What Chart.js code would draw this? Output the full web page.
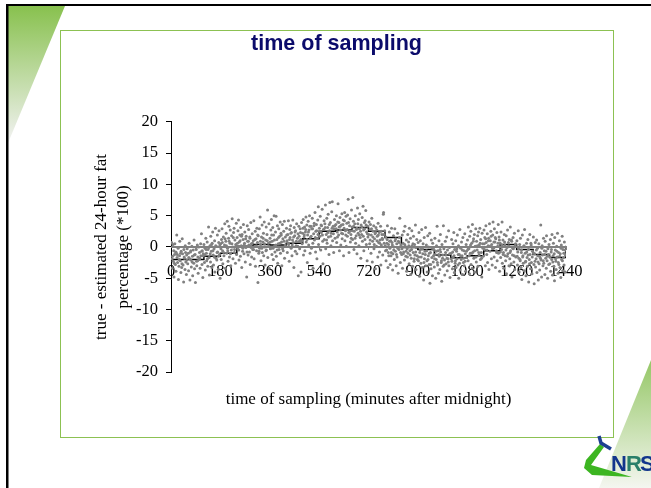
<!DOCTYPE html>
<html>
<head>
<meta charset="utf-8">
<script src="https://cdn.jsdelivr.net/npm/chart.js@4"></script>
<style>
  html, body { margin: 0; padding: 0; background: #fff; }
  #wrap { width: 651px; height: 488px; }
</style>
</head>
<body>
<div id="wrap"><canvas id="c" width="651" height="488"></canvas></div>
<script>
// mean per hour of day, drawn as a step line
const stepMinutes = [0, 0, 60, 120, 180, 240, 300, 360, 420, 480, 540, 600, 660, 720, 780, 840, 900, 960, 1020, 1080, 1140, 1200, 1260, 1320, 1380, 1440, 1440];
const stepValues = [0, -2.0, -2.0, -1.5, -1.0, 0.1, 0.4, 0.3, 0.6, 1.3, 2.5, 2.7, 3.1, 2.5, 1.5, -0.1, -0.4, -1.3, -1.75, -1.4, -0.6, 0.4, -0.4, -1.2, -1.7, -1.65, 0];
const zeroMinutes = [0, 1440];
const zeroValues = [0, 0];

// single samples [minute, difference]
const samples = [
[2,0.7],[4,-1.9],[5,-3.4],[7,0.4],[8,-2.3],[10,-0.6],[11,-4.8],[13,-1.2],[14,0.5],[16,-2.8],[18,-3.9],[19,-0.9],[21,1.9],[22,-1.7],[24,-2.5],[26,-0.2],[27,-5.2],[29,-3.1],[31,-1.4],[32,0.9],[34,-2.2],[36,-4.1],[37,-0.7],[39,-3.3],[41,1.3],[42,-1.1],[44,-2.9],[46,-5.6],[47,-0.4],[49,-1.8],[51,-3.6],[52,0.2],[54,-2.4],[56,-4.4],[57,-1.3],[59,-0.3],
[61,-2.7],[63,-1.0],[64,-3.8],[66,0.6],[68,-1.9],[69,-5.3],[71,-0.8],[73,-2.1],[74,-3.2],[76,0.1],[78,-1.5],[79,-4.6],[81,-0.5],[83,-2.6],[84,1.1],[86,-3.5],[88,-1.2],[89,-5.7],[91,-0.1],[93,-2.3],[94,-3.0],[96,0.3],[98,-1.6],[99,-4.2],[101,0.0],[103,-2.0],[104,-0.9],[106,-3.4],[108,0.5],[109,-1.4],[111,2.1],[113,-2.8],[114,-0.6],[116,-4.9],[118,-1.1],
[120,0.4],[122,-2.5],[124,-0.2],[125,-3.7],[127,1.4],[129,-1.0],[130,-2.2],[132,0.8],[134,-3.1],[135,-0.4],[137,3.2],[139,-1.7],[140,-4.5],[142,0.2],[144,-2.4],[145,1.7],[147,-0.7],[149,-3.3],[150,0.6],[152,2.4],[154,-1.3],[155,-2.9],[157,-0.3],[159,1.0],[160,-4.0],[162,3.0],[164,-1.8],[165,0.1],[167,-2.1],[169,1.9],[170,-0.8],[172,-3.6],[174,0.7],[175,2.6],[177,-1.2],[179,-5.0],
[181,0.5],[183,-2.0],[184,1.2],[186,2.9],[188,-0.6],[189,-2.7],[191,1.6],[193,-1.4],[195,0.3],[196,3.7],[198,-3.4],[200,0.9],[201,2.2],[203,-1.0],[205,4.1],[206,-0.2],[208,-2.3],[210,1.4],[211,3.3],[213,-1.6],[215,0.6],[216,2.7],[218,-3.0],[220,-0.5],[221,1.8],[223,4.5],[225,0.0],[226,-1.9],[228,2.3],[230,3.0],[231,-0.9],[233,1.1],[235,-2.6],[236,0.4],[238,3.8],[239,-1.2],
[241,1.5],[243,-0.3],[244,2.6],[246,4.3],[248,-2.1],[249,0.8],[251,1.9],[253,-1.5],[254,3.1],[256,0.2],[258,-3.3],[259,2.0],[261,-0.7],[263,1.2],[264,3.6],[266,-1.1],[268,0.6],[269,2.4],[271,-2.4],[273,-0.1],[274,1.7],[276,-4.8],[278,3.4],[279,0.9],[281,-1.3],[283,2.8],[284,0.3],[286,-0.8],[288,1.4],[289,-2.8],[291,3.9],[293,0.5],[294,-1.6],[296,2.1],[298,-0.4],
[300,1.0],[302,4.2],[303,-1.9],[305,0.1],[307,2.5],[308,-3.1],[310,1.3],[312,-0.6],[313,3.0],[315,0.7],[317,-5.7],[318,1.8],[320,-1.0],[322,2.9],[323,-0.2],[325,4.8],[327,0.4],[328,-2.2],[330,1.6],[332,3.5],[333,-0.9],[335,0.8],[337,2.2],[338,-1.4],[340,4.0],[342,0.0],[343,-2.9],[345,1.1],[347,3.2],[348,-0.5],[350,2.0],[352,5.9],[353,-1.7],[355,0.6],[357,3.7],[358,-3.4],
[361,1.4],[363,-0.3],[364,2.7],[366,4.4],[368,-1.2],[369,0.9],[371,3.1],[373,-2.0],[374,1.9],[376,5.0],[378,0.2],[379,-0.8],[381,2.4],[383,4.9],[384,-1.5],[386,1.2],[388,3.4],[389,-2.6],[391,0.5],[393,2.9],[394,-0.4],[396,1.7],[398,4.0],[399,-1.0],[401,2.2],[403,0.8],[404,-3.0],[406,3.6],[408,1.3],[409,-0.6],[411,2.5],[413,4.1],[414,-1.8],[416,0.3],
[421,3.0],[423,1.0],[424,-0.9],[426,2.0],[428,4.2],[429,0.4],[431,-2.3],[433,2.8],[434,1.5],[436,3.4],[438,-0.2],[439,2.3],[441,-1.4],[443,1.1],[444,4.3],[446,0.7],[448,-3.3],[449,3.1],[451,1.8],[453,-0.7],[454,2.6],[456,0.2],[458,3.7],[459,-1.1],[461,1.4],[463,2.1],[464,-4.6],[466,3.3],[468,0.9],[469,-0.3],[471,2.9],[473,1.2],[474,-4.0],[476,3.9],[478,0.5],
[480,2.2],[482,4.4],[483,-1.3],[485,1.6],[487,3.2],[488,-0.6],[490,2.4],[492,4.8],[493,0.8],[495,3.5],[497,-2.5],[498,1.9],[500,4.1],[502,0.3],[503,2.7],[505,5.0],[507,-1.0],[508,1.5],[510,3.3],[512,-0.2],[513,2.9],[515,4.6],[517,0.6],[518,-3.4],[520,2.1],[522,3.8],[523,1.1],[525,5.5],[527,-0.8],[528,2.5],[530,3.6],[532,-1.9],[533,1.4],[535,4.3],[537,6.4],[538,0.4],
[541,3.0],[543,1.7],[544,4.9],[546,-0.5],[548,2.3],[549,3.4],[551,6.0],[553,0.9],[554,-2.7],[556,2.8],[558,4.2],[559,1.2],[561,3.7],[563,6.7],[564,-0.3],[566,2.0],[568,4.6],[569,0.6],[571,3.1],[573,5.2],[574,1.6],[576,-1.2],[578,2.6],[579,7.1],[581,3.9],[583,0.2],[584,2.2],[586,5.6],[588,7.2],[589,1.0],[591,3.3],[593,-0.9],[594,2.9],[596,4.4],[598,1.4],
[601,3.6],[603,5.0],[604,0.7],[606,2.4],[608,4.0],[609,6.9],[611,1.9],[613,3.2],[614,-0.6],[616,4.7],[618,2.7],[619,0.3],[621,3.5],[623,5.3],[624,1.3],[626,2.1],[628,4.3],[629,-1.4],[631,3.0],[633,5.5],[634,1.0],[636,2.6],[638,4.9],[639,0.1],[641,3.8],[643,1.7],[644,5.1],[646,7.6],[648,2.3],[649,-0.9],[651,3.4],[653,4.5],[654,0.8],[656,2.0],[658,5.9],
[660,3.2],[662,1.2],[663,7.9],[665,4.1],[667,-0.4],[668,2.5],[670,3.7],[672,5.0],[673,0.6],[675,1.8],[677,3.0],[678,-1.1],[680,6.2],[682,2.2],[683,4.4],[685,0.2],[687,2.9],[688,5.3],[690,1.5],[692,-1.8],[693,3.5],[695,2.0],[697,4.7],[698,0.9],[700,6.5],[702,2.7],[703,-0.6],[705,3.9],[707,1.2],[708,4.2],[710,5.8],[712,0.4],[713,2.4],[715,-2.2],[717,3.3],[718,1.6],
[722,4.0],[724,0.5],[725,2.8],[727,3.6],[729,-1.0],[730,1.9],[732,4.6],[734,-2.4],[735,0.9],[737,2.5],[739,3.4],[740,-0.3],[742,1.3],[744,2.1],[745,-3.5],[747,3.1],[749,0.1],[750,2.7],[752,1.7],[754,-1.6],[755,3.8],[757,0.7],[759,2.3],[760,-0.8],[762,1.1],[764,3.3],[765,-2.9],[767,0.3],[769,2.0],[770,1.4],[772,-1.3],[774,5.2],[775,5.5],[777,0.6],[779,2.6],
[781,0.2],[783,1.6],[784,-2.2],[786,-0.5],[788,1.2],[789,3.4],[791,-3.3],[793,0.4],[794,-1.4],[796,2.4],[798,-0.2],[799,-2.8],[801,1.0],[803,-0.9],[804,3.0],[806,0.7],[808,-3.7],[809,-1.1],[811,1.8],[813,0.0],[814,-2.0],[816,2.9],[818,-0.7],[819,1.3],[821,-3.0],[823,0.5],[824,-1.6],[826,2.2],[828,-4.2],[829,0.9],[831,-0.4],[833,1.5],[834,4.6],[836,-2.5],[838,0.3],
[841,-1.2],[843,1.9],[844,-3.4],[846,0.6],[848,-0.8],[849,2.5],[851,-2.1],[853,3.3],[854,0.1],[856,-1.5],[858,1.1],[859,-3.9],[861,-0.3],[863,2.0],[864,-1.0],[866,0.8],[868,-2.7],[869,3.0],[871,-0.6],[873,1.4],[874,-4.4],[876,-1.8],[878,2.6],[879,0.2],[881,-3.1],[883,-0.9],[884,1.7],[886,-2.3],[888,0.4],[889,-1.3],[891,3.5],[893,-3.6],[894,-0.1],[896,1.2],[898,-2.0],
[901,0.7],[903,-1.6],[904,2.3],[906,-4.7],[908,-0.5],[909,1.0],[911,-2.6],[913,-0.2],[914,2.8],[916,-3.3],[918,-1.1],[919,0.5],[921,-5.3],[923,1.5],[924,-1.9],[926,-0.7],[928,3.1],[929,-3.0],[931,0.3],[933,-2.2],[934,-4.0],[936,1.8],[938,-1.4],[939,0.0],[941,-2.8],[943,2.2],[944,-5.8],[946,-0.9],[948,-3.5],[949,1.1],[951,-1.7],[953,-4.6],[954,0.6],[956,-2.4],[958,-0.4],
[960,-3.2],[962,1.4],[963,-1.2],[965,-5.0],[967,-2.0],[968,0.2],[970,3.3],[972,-2.9],[973,-0.6],[975,-4.2],[977,1.0],[978,-1.5],[980,-3.6],[982,2.0],[983,-0.8],[985,-2.5],[987,-5.5],[988,0.4],[990,-1.8],[992,-3.1],[993,3.4],[995,-0.3],[997,-2.1],[998,-4.5],[1000,0.9],[1002,-1.3],[1003,-2.7],[1005,1.6],[1007,-3.8],[1008,-0.5],[1010,-1.9],[1012,2.6],[1013,-3.0],[1015,-0.1],[1017,-4.9],
[1021,-1.0],[1023,1.2],[1024,-2.3],[1026,-3.5],[1028,0.5],[1029,-1.6],[1031,2.3],[1033,-4.1],[1034,-0.4],[1036,-2.6],[1038,1.0],[1039,-3.3],[1041,-0.7],[1043,-1.9],[1044,1.9],[1046,-2.9],[1048,0.2],[1049,-5.0],[1051,-1.2],[1053,2.8],[1054,-3.7],[1056,-0.2],[1058,-2.0],[1059,0.8],[1061,-1.4],[1063,-4.4],[1064,1.5],[1066,-2.5],[1068,-0.6],[1069,-3.0],[1071,2.1],[1073,-1.1],[1074,-3.9],[1076,0.4],[1078,-1.7],
[1081,1.1],[1083,-2.2],[1084,3.2],[1086,-0.3],[1088,-4.3],[1089,1.7],[1091,-1.0],[1093,2.5],[1094,-2.8],[1096,0.6],[1098,-3.4],[1099,3.6],[1101,-0.8],[1103,1.3],[1104,-1.8],[1106,2.0],[1108,-4.0],[1109,0.1],[1111,2.9],[1113,-2.4],[1114,0.9],[1116,-0.5],[1118,1.8],[1119,-3.1],[1121,2.4],[1123,-1.3],[1124,0.3],[1126,3.0],[1128,-2.0],[1129,1.2],[1131,-0.9],[1133,-4.8],[1134,2.2],[1136,0.5],[1138,-1.5],
[1141,2.7],[1143,-0.4],[1144,1.5],[1146,-3.0],[1148,3.4],[1149,0.7],[1151,-1.2],[1153,2.1],[1154,-2.5],[1156,0.2],[1158,1.4],[1159,-3.6],[1161,3.7],[1163,-0.7],[1164,1.0],[1166,2.5],[1168,-1.9],[1169,0.4],[1171,-2.9],[1173,1.9],[1174,4.0],[1176,-0.2],[1178,-1.6],[1179,2.9],[1181,0.8],[1183,-3.3],[1184,1.3],[1186,-0.6],[1188,2.3],[1189,-2.2],[1191,0.1],[1193,3.6],[1194,-1.0],[1196,1.6],[1198,-3.9],
[1200,0.6],[1202,-1.7],[1203,2.4],[1205,-0.4],[1207,4.0],[1208,-2.6],[1210,1.1],[1212,-0.9],[1213,-3.4],[1215,2.0],[1217,0.3],[1218,-1.4],[1220,-2.2],[1222,1.8],[1223,-4.3],[1225,-0.1],[1227,2.7],[1228,-1.1],[1230,0.7],[1232,-3.0],[1233,1.2],[1235,-1.9],[1237,3.2],[1238,-0.6],[1240,-2.7],[1242,0.9],[1243,-4.8],[1245,-1.3],[1247,1.5],[1248,-0.3],[1250,-2.4],[1252,2.2],[1253,-3.6],[1255,0.2],[1257,-1.6],
[1261,1.0],[1263,-2.9],[1264,-0.8],[1266,2.6],[1268,-1.8],[1269,-4.0],[1271,0.4],[1273,-2.2],[1274,1.4],[1276,-3.3],[1278,-0.5],[1279,-5.2],[1281,1.9],[1283,-1.4],[1284,-2.6],[1286,0.1],[1288,-3.8],[1289,2.8],[1291,-1.0],[1293,-2.3],[1294,-4.6],[1296,0.6],[1298,-1.7],[1299,-3.1],[1301,1.2],[1303,-0.4],[1304,-5.6],[1306,-2.0],[1308,2.0],[1309,-1.2],[1311,-3.5],[1313,0.3],[1314,-2.5],[1316,-4.3],[1318,-0.7],
[1321,1.6],[1323,-2.8],[1324,-5.9],[1326,-1.1],[1328,0.7],[1329,-3.2],[1331,-1.9],[1333,1.1],[1334,-4.1],[1336,-0.2],[1338,-2.4],[1339,-5.3],[1341,0.5],[1343,-1.5],[1344,-3.7],[1346,-0.9],[1348,3.5],[1349,-2.1],[1351,-4.8],[1353,0.2],[1354,-1.3],[1356,-3.0],[1358,1.4],[1359,-2.6],[1361,-0.6],[1363,-4.4],[1364,0.9],[1366,-1.8],[1368,-3.4],[1369,1.8],[1371,-2.2],[1373,-5.0],[1374,-0.3],[1376,-1.2],[1378,0.4],
[1381,-2.7],[1383,1.2],[1384,-3.9],[1386,-0.8],[1388,-2.0],[1389,2.0],[1391,-4.5],[1393,-1.4],[1394,0.6],[1396,-3.1],[1398,-5.4],[1399,1.5],[1401,-0.5],[1403,-2.3],[1404,-3.6],[1406,0.1],[1408,-1.6],[1409,2.2],[1411,-4.2],[1413,-0.9],[1414,-2.8],[1416,1.0],[1418,-3.3],[1419,-1.1],[1421,-4.9],[1423,0.3],[1424,-2.0],[1426,1.7],[1428,-3.8],[1429,-0.4],[1431,-1.7],[1433,-2.9],[1434,0.8],[1436,-4.0],[1438,-1.3],[1439,0.0]
];

// the dense band of samples close to the hourly mean
const denseSamples = [
[6,-1.5],[12,-2.6],[17,-0.8],[23,-1.2],[30,-2.0],[35,-1.0],[40,-2.7],[48,-1.6],[53,-0.9],[58,-2.1],[65,-1.7],[72,-0.6],[77,-2.4],[85,-1.3],[92,-0.4],[97,-2.2],[105,-1.8],[112,-0.7],[117,-1.4],
[123,-1.3],[128,-0.4],[133,-1.9],[138,-0.1],[143,-1.1],[148,0.4],[153,-0.6],[158,-1.6],[163,0.2],[168,-0.9],[173,-1.5],[178,0.3],
[182,-0.3],[187,0.7],[192,-0.9],[197,1.3],[202,0.2],[207,-0.6],[212,0.9],[217,-1.1],[222,0.5],[227,1.5],[232,-0.4],[237,0.1],
[242,0.6],[247,-0.5],[252,1.0],[257,1.7],[262,-0.2],[267,0.3],[272,1.3],[277,-0.8],[282,0.9],[287,1.6],[292,-0.1],[297,0.6],
[301,-0.4],[306,1.2],[311,0.2],[316,1.9],[321,-0.7],[326,0.9],[331,-0.2],[336,1.4],[341,0.5],[346,-0.6],[351,1.0],[356,0.1],
[362,0.8],[367,1.9],[372,-0.2],[377,1.1],[382,0.3],[387,-0.5],[392,1.5],[397,0.6],[402,1.9],[407,-0.3],[412,0.9],[417,1.6],
[422,1.9],[427,0.6],[432,1.2],[437,2.2],[442,0.3],[447,1.6],[452,2.4],[457,0.9],[462,0.1],[467,1.7],[472,2.3],[477,1.0],
[481,3.0],[486,1.9],[491,2.8],[496,1.2],[501,2.4],[506,3.3],[511,1.7],[516,2.9],[521,3.4],[526,1.5],[531,2.6],[536,2.0],
[542,2.5],[547,3.5],[552,1.9],[557,2.8],[562,3.1],[567,1.1],[572,2.3],[577,3.6],[582,1.7],[587,3.0],[592,2.1],[597,3.4],
[602,2.9],[607,1.6],[612,3.9],[617,3.3],[622,2.2],[627,3.6],[632,4.2],[637,1.9],[642,2.8],[647,3.9],[652,2.5],[657,1.4],
[661,2.6],[666,3.3],[671,1.4],[676,2.8],[681,3.7],[686,1.9],[691,2.5],[696,3.2],[701,1.7],[706,2.9],[711,3.5],[716,2.1],
[721,2.0],[726,1.1],[731,2.9],[736,1.6],[741,0.4],[746,2.3],[751,1.0],[756,1.9],[761,0.6],[766,2.5],[771,1.2],[776,2.0],
[782,-0.6],[787,0.6],[792,-0.9],[797,0.9],[802,-1.4],[807,0.3],[812,-0.5],[817,1.0],[822,-1.2],[827,-0.2],[832,0.7],[837,-0.9],
[842,-0.3],[847,-1.1],[852,0.4],[857,-0.7],[862,-1.6],[867,0.2],[872,-1.3],[877,-0.4],[882,0.5],[887,-1.9],[892,-0.8],[897,-1.4],
[902,-2.2],[907,-0.9],[912,-1.6],[917,-0.3],[922,-2.5],[927,-1.2],[932,-0.6],[937,-2.0],[942,-1.0],[947,-2.8],[952,-0.2],[957,-1.4],
[961,-1.9],[966,-0.7],[971,-2.5],[976,-1.2],[981,-0.4],[986,-2.2],[991,-1.3],[996,-2.9],[1001,-0.9],[1006,-1.8],[1011,-2.4],[1016,-1.1],
[1022,-1.9],[1027,-0.8],[1032,-1.4],[1037,-2.2],[1042,-0.3],[1047,-1.2],[1052,-2.6],[1057,-1.5],[1062,-0.5],[1067,-1.8],[1072,-2.3],[1077,-0.7],
[1082,-0.4],[1087,-1.4],[1092,0.3],[1097,-1.0],[1102,0.9],[1107,-0.6],[1112,-1.6],[1117,0.2],[1122,-0.9],[1127,0.6],[1132,-1.8],[1137,-0.2],
[1142,0.5],[1147,1.3],[1152,-0.5],[1157,1.0],[1162,0.1],[1167,1.7],[1172,-0.3],[1177,0.8],[1182,1.5],[1187,-0.9],[1192,0.6],[1197,1.1],
[1201,-0.8],[1206,0.3],[1211,-1.2],[1216,0.8],[1221,-0.5],[1226,-1.5],[1231,0.2],[1236,-0.9],[1241,1.1],[1246,-0.2],[1251,-1.4],[1256,0.5],
[1262,-1.5],[1267,-0.3],[1272,-2.0],[1277,-0.9],[1282,-1.6],[1287,0.2],[1292,-2.4],[1297,-0.8],[1302,-1.3],[1307,-2.7],[1312,0.6],[1317,-1.6],
[1322,-1.0],[1327,-2.3],[1332,-0.5],[1337,-1.4],[1342,-2.7],[1347,-1.8],[1352,-0.2],[1357,-2.2],[1362,-1.2],[1367,-0.7],[1372,-1.5],[1377,-2.8],
[1382,-1.6],[1387,-0.4],[1392,-2.4],[1397,-1.1],[1402,-1.9],[1407,-0.7],[1412,-2.5],[1417,-1.5],[1422,-0.2],[1427,-2.2],[1432,-1.0],[1437,-0.5]
];

const yTicks = [-20, -15, -10, -5, 0, 5, 10, 15, 20];
const xStep = 180;

const titleText = 'time of sampling';
const xTitleText = 'time of sampling (minutes after midnight)';
const yTitleLines = ['true - estimated 24-hour fat', 'percentage (*100)'];

// slide background: black edge, green corners, panel, logo
const slideBackground = {
  id: 'slideBackground',
  afterLayout(chart) {
    // title sits centred on the panel, not on the canvas
    chart.titleBlock.left = 60;
    chart.titleBlock.right = 613;
  },
  beforeDraw(chart) {
    const ctx = chart.ctx;
    ctx.save();
    ctx.fillStyle = '#fff';
    ctx.fillRect(0, 0, 651, 488);

    let g = ctx.createLinearGradient(0, 6, 0, 142);
    g.addColorStop(0, '#88c14e');
    g.addColorStop(1, '#f2f2f2');
    ctx.fillStyle = g;
    ctx.beginPath();
    ctx.moveTo(8, 6);
    ctx.lineTo(65, 6);
    ctx.lineTo(8, 143);
    ctx.closePath();
    ctx.fill();

    g = ctx.createLinearGradient(0, 360, 0, 488);
    g.addColorStop(0, '#95c766');
    g.addColorStop(1, '#f4f6f0');
    ctx.fillStyle = g;
    ctx.beginPath();
    ctx.moveTo(651, 360);
    ctx.lineTo(651, 488);
    ctx.lineTo(599, 488);
    ctx.closePath();
    ctx.fill();

    ctx.fillStyle = '#000';
    ctx.fillRect(6, 4, 645, 2);
    ctx.fillRect(6, 4, 2.5, 484);

    ctx.strokeStyle = '#8cc152';
    ctx.lineWidth = 1;
    ctx.strokeRect(60.5, 30.5, 553, 407);

    // logo
    ctx.fillStyle = '#3cb521';
    ctx.beginPath();
    ctx.moveTo(600, 444);
    ctx.lineTo(604, 447);
    ctx.lineTo(591, 465);
    ctx.lineTo(632, 477);
    ctx.lineTo(592, 475);
    ctx.lineTo(584, 468);
    ctx.lineTo(586, 460);
    ctx.closePath();
    ctx.fill();
    ctx.strokeStyle = '#1d3f91';
    ctx.lineWidth = 3.5;
    ctx.beginPath();
    ctx.moveTo(599, 436);
    ctx.lineTo(601, 443);
    ctx.lineTo(611, 449);
    ctx.stroke();
    ctx.font = 'bold 22px "Liberation Sans"';
    ctx.textBaseline = 'alphabetic';
    ctx.fillStyle = '#12358c';
    ctx.fillText('N', 611, 471);
    ctx.fillStyle = '#2a7f6a';
    ctx.fillText('R', 626, 471);
    ctx.fillStyle = '#12358c';
    ctx.fillText('S', 640, 471);
    ctx.restore();
  }
};

new Chart(document.getElementById('c'), {
  type: 'scatter',
  data: {
    datasets: [
      {
        label: 'samples',
        data: samples.concat(denseSamples).map(p => ({ x: p[0], y: p[1] })),
        pointStyle: 'circle',
        pointRadius: 1.5,
        borderWidth: 0,
        backgroundColor: '#808080',
        order: 1
      },
      {
        label: 'zero',
        type: 'line',
        data: zeroMinutes.map((m, i) => ({ x: m, y: zeroValues[i] })),
        borderColor: '#808080',
        borderWidth: 2,
        pointRadius: 0,
        order: 2
      },
      {
        label: 'hourly mean',
        type: 'line',
        data: stepMinutes.map((m, i) => ({ x: m, y: stepValues[i] })),
        stepped: 'before',
        borderColor: '#000',
        borderWidth: 1.5,
        pointRadius: 0,
        order: 3
      }
    ]
  },
  options: {
    responsive: false,
    animation: false,
    layout: { padding: { left: 90, right: 85, top: 0, bottom: 116 } },
    plugins: {
      legend: { display: false },
      tooltip: { enabled: false },
      title: {
        display: true,
        text: titleText,
        color: '#0b0b6b',
        font: { family: '"Liberation Sans"', size: 21.5, weight: 'bold' },
        padding: { top: 31, bottom: 65 }
      }
    },
    scales: {
      x: {
        type: 'linear',
        position: { y: 0 },
        min: 0,
        max: 1440,
        border: { color: '#808080', width: 1 },
        grid: { drawOnChartArea: false, color: '#808080', tickLength: 3 },
        ticks: {
          stepSize: xStep,
          autoSkip: false,
          maxRotation: 0,
          padding: 12,
          color: '#000',
          font: { family: '"Liberation Serif"', size: 16.5 },
          callback: value => String(value)
        },
        title: {
          display: true,
          text: xTitleText,
          color: '#000',
          font: { family: '"Liberation Serif"', size: 17 },
          padding: { top: 96 }
        }
      },
      y: {
        min: -20,
        max: 20,
        afterBuildTicks(axis) {
          axis.ticks = yTicks.map(v => ({ value: v }));
        },
        afterFit(axis) {
          axis.width = 81;
        },
        border: { color: '#000', width: 1 },
        grid: { drawOnChartArea: false, color: '#000', tickLength: 5 },
        ticks: {
          padding: 8,
          color: '#000',
          font: { family: '"Liberation Serif"', size: 16.5 }
        },
        title: {
          display: true,
          text: yTitleLines,
          color: '#000',
          font: { family: '"Liberation Serif"', size: 17, lineHeight: 1.3 },
          padding: { top: 0, bottom: 2 }
        }
      }
    }
  },
  plugins: [slideBackground]
});
</script>
</body>
</html>
